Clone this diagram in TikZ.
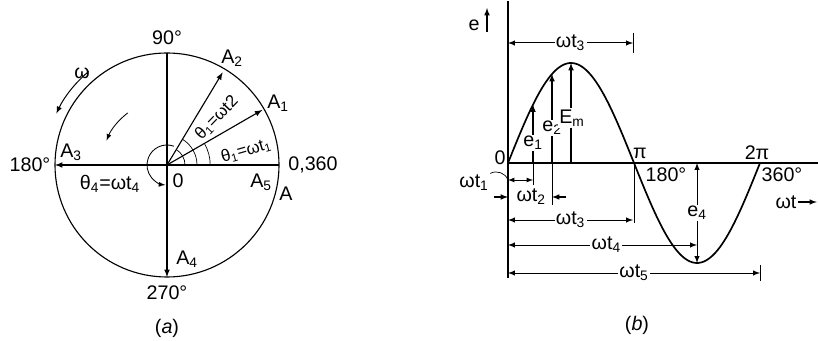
\documentclass[tikz,border=0pt]{standalone}
\usepackage{fontspec}
\setmainfont{Liberation Sans}

\begin{document}
\begin{tikzpicture}[
    lbl/.style={
        font=\fontsize{14}{16}\selectfont,
        inner sep=1pt
    },
    lblw/.style={
        lbl,
        fill=white
    },
    angle lbl/.style={
        font=\fontsize{12}{14}\selectfont,
        inner sep=0.5pt
    },
    phasor/.style={
        -latex,
        line width=0.8pt
    },
    dim/.style={
        latex-latex,
        line width=0.7pt
    },
    tick/.style={
        line width=0.7pt
    },
    curve/.style={
        line width=1.2pt
    },
    thin arc/.style={
        line width=0.5pt
    }
]

\useasboundingbox (0,0) rectangle (20.45,8.525);

% Círculo (a)
\coordinate (O) at (4.175,4.4);
\draw[line width=0.8pt] (O) circle (2.8);

% Puntos del círculo
\coordinate (top) at (4.175,7.2);
\coordinate (A) at (6.975,4.4);
\coordinate (A1) at ([shift={(30:2.75)}]O);
\coordinate (A2) at ([shift={(59:2.7)}]O);
\coordinate (A3) at (1.375,4.4);
\coordinate (A4) at (4.175,1.6);

% Ejes y fasores
\draw[line width=0.8pt] (top) -- (O) -- (A);
\draw[phasor] (O) -- (A1);
\draw[phasor] (O) -- (A2);
\draw[phasor] (O) -- (A3);
\draw[phasor] (O) -- (A4);

% Arcos de ángulo
\foreach \r in {0.45,0.75,1.08}
    \draw[thin arc] ([shift={(0:\r)}]O) arc[start angle=0,end angle=30,radius=\r];
\foreach \r in {0.45,0.75}
    \draw[thin arc] ([shift={(30:\r)}]O) arc[start angle=30,end angle=59,radius=\r];
\draw[-latex,line width=0.6pt] ([shift={(70:0.5)}]O) arc[start angle=70,end angle=265,radius=0.5];

% Sentido de giro
\draw[-latex,line width=0.7pt] ([shift={(130:3.05)}]O) arc[start angle=130,end angle=155,radius=3.05];
\draw[-latex,line width=0.6pt] ([shift={(127:1.63)}]O) arc[start angle=127,end angle=158,radius=1.63];

% Etiquetas (a)
\node[lbl] (l90) at (4.175,7.575) {90°};
\node[lbl] (l270) at (4.175,1.2) {270°};
\node[lbl] (l180) at (0.75,4.4) {180°};
\node[lbl] (l360) at (7.825,4.4) {0,360};
\node[lbl] (lA1) at (6.95,5.95) {A\textsubscript{1}};
\node[lbl] (lA2) at (5.8,7.075) {A\textsubscript{2}};
\node[lbl] (lA3) at (1.775,4.725) {A\textsubscript{3}};
\node[lbl] (lA4) at (4.675,2.05) {A\textsubscript{4}};
\node[lbl] (lA5) at (6.525,3.975) {A\textsubscript{5}};
\node[lbl] (lA) at (7.15,3.675) {A};
\node[lbl] (lO) at (4.45,4.0) {0};
\node[lbl] (lw) at (2.05,6.7) {ω};
\node[lbl] (th4) at (2.75,3.925) {θ\textsubscript{4}=ωt\textsubscript{4}};
\node[angle lbl,rotate=46] (th2) at (5.42,5.58) {θ\textsubscript{1}=ωt2};
\node[angle lbl,rotate=16] (th1) at (6.15,4.76) {θ\textsubscript{1}=ωt\textsubscript{1}};
\node[lbl] (capa) at (4.175,0.325) {({\itshape a})};

% Ejes (b)
\coordinate (P) at (12.7,4.45);
\coordinate (yb) at (12.7,1.575);
\coordinate (yt) at (12.7,8.5);
\coordinate (xe) at (20.45,4.45);
\draw[line width=0.8pt] (yb) -- (yt);
\draw[line width=0.8pt] (P) -- (xe);

\coordinate (ea) at (12.175,7.725);
\coordinate (eb) at (12.175,8.325);
\draw[phasor] (ea) -- (eb);
\node[lbl] (le) at (11.85,7.9) {e};

% Ordenadas
\coordinate (e1b) at (13.325,4.45);
\coordinate (e1t) at (13.325,5.91);
\coordinate (e2b) at (13.8,4.45);
\coordinate (e2t) at (13.8,6.675);
\coordinate (emb) at (14.275,4.45);
\coordinate (emt) at (14.275,6.95);
\draw[phasor] (e1b) -- (e1t);
\draw[phasor] (e2b) -- (e2t);
\draw[phasor] (emb) -- (emt);
\node[lblw] (le1) at (13.325,4.95) {e\textsubscript{1}};
\node[lblw] (le2) at (13.8,5.325) {e\textsubscript{2}};
\node[lblw] (lem) at (14.3,5.575) {E\textsubscript{m}};

% Onda seno
\draw[curve] plot[domain=0:360,samples=120] ({12.7+\x/180*3.15},{4.45+2.5*sin(\x)});

% Cotas
\coordinate (t3a) at (12.7,7.45);
\coordinate (t3b) at (15.825,7.45);
\draw[dim] (t3a) -- node[lblw] (wt3top) {ωt\textsubscript{3}} (t3b);
\draw[tick] (t3b) ++(0,-0.25) -- ++(0,0.5);

\coordinate (t1a) at (12.7,4.025);
\coordinate (t1b) at (13.325,4.025);
\draw[latex-latex,line width=0.6pt] (t1a) -- (t1b);
\draw[tick] (e1b) -- ++(0,-0.55);
\node[lbl] (wt1) at (11.85,3.95) {ωt\textsubscript{1}};
\draw[line width=0.5pt] (wt1.north east) to[bend left=50] (t1a);

\coordinate (t2a) at (12.35,3.6);
\coordinate (t2b) at (14.15,3.6);
\coordinate (t2c) at (13.8,3.6);
\draw[phasor] (t2a) -- (P |- t2a);
\draw[phasor] (t2b) -- (t2c);
\draw[tick] (e2b) -- ++(0,-1.05);
\node[lbl] (wt2) at (13.28,3.6) {ωt\textsubscript{2}};

\coordinate (t3c) at (12.7,3.025);
\coordinate (t3d) at (15.825,3.025);
\coordinate (pi) at (15.85,4.45);
\draw[dim] (t3c) -- node[lblw] (wt3) {ωt\textsubscript{3}} (t3d);
\draw[tick] (pi) -- ++(0,-1.5);

\coordinate (t4a) at (12.7,2.4);
\coordinate (t4b) at (17.425,2.4);
\draw[dim] (t4a) -- node[lblw,pos=0.52] (wt4) {ωt\textsubscript{4}} (t4b);

\coordinate (e4t) at (17.425,4.45);
\coordinate (e4b) at (17.425,1.95);
\draw[dim] (e4t) -- node[lblw] (le4) {e\textsubscript{4}} (e4b);

\coordinate (t5a) at (12.7,1.7);
\coordinate (t5b) at (19.0,1.7);
\draw[dim] (t5a) -- node[lblw] (wt5) {ωt\textsubscript{5}} (t5b);
\draw[tick] (t5b) ++(0,-0.2) -- ++(0,0.4);

% Etiquetas (b)
\node[lbl] (lO2) at (12.5,4.575) {0};
\node[lbl] (lpi) at (16.0,4.7) {π};
\node[lbl] (l2pi) at (18.925,4.7) {2π};
\node[lbl] (l180b) at (16.65,4.15) {180°};
\node[lbl] (l360b) at (19.55,4.15) {360°};
\node[lbl] (lwt) at (19.65,3.475) {ωt};
\coordinate (wtend) at (20.42,3.475);
\draw[phasor] (lwt.east) -- (wtend);
\node[lbl] (capb) at (15.925,0.4) {({\itshape b})};

\end{tikzpicture}
\end{document}
